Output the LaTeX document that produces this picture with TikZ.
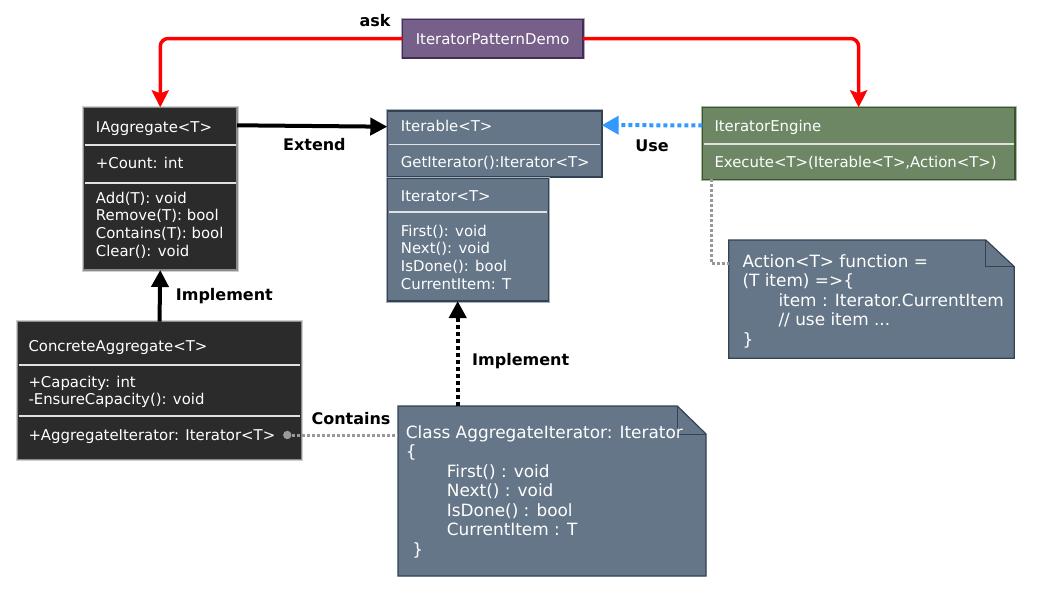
\documentclass[tikz,border=0pt]{standalone}
\usepackage{fontspec}
\setmainfont{DejaVu Sans}
\usetikzlibrary{arrows.meta,calc}
\definecolor{blueFill}{HTML}{647687}
\definecolor{blueStroke}{HTML}{314354}
\definecolor{blueOuter}{HTML}{A9B2BC}
\definecolor{greenFill}{HTML}{6D8764}
\definecolor{greenStroke}{HTML}{3A5431}
\definecolor{greenOuter}{HTML}{AAB9A4}
\definecolor{purpleFill}{HTML}{76608A}
\definecolor{purpleStroke}{HTML}{432D57}
\definecolor{purpleOuter}{HTML}{B3A6BF}
\definecolor{darkFill}{HTML}{2B2B2B}
\definecolor{darkStroke}{HTML}{8C8C8C}
\definecolor{darkOuter}{HTML}{CFCFCF}
\definecolor{divLine}{HTML}{E2E2E2}
\definecolor{askRed}{HTML}{FF0000}
\definecolor{useBlue}{HTML}{3399FF}
\definecolor{connGray}{HTML}{999999}
\newcommand\mylines[1]{\parbox[t]{330pt}{#1}}
\begin{document}
\begin{tikzpicture}[x=1pt,y=-1pt,
  box/.style={shape=rectangle, inner sep=0pt, outer sep=0pt, anchor=north west},
  darkbox/.style={box, fill=darkFill, draw=darkStroke, line width=1.4pt, preaction={draw=darkOuter, line width=3.2pt}},
  bluebox/.style={box, fill=blueFill, draw=blueStroke, line width=1.6pt, preaction={draw=blueOuter, line width=3.4pt}},
  greenbox/.style={box, fill=greenFill, draw=greenStroke, line width=1.6pt, preaction={draw=greenOuter, line width=3.4pt}},
  purplebox/.style={box, fill=purpleFill, draw=purpleStroke, line width=1.6pt, preaction={draw=purpleOuter, line width=3.4pt}},
  notebox/.style={box},
  notepath/.style={fill=blueFill, draw=blueStroke, line width=1.2pt, line join=miter},
  foldline/.style={draw=blueStroke, line width=1pt},
  divider/.style={draw=divLine, line width=1.8pt},
  btxt/.style={text=white, inner sep=0pt, font=\fontsize{14.9}{17.7}\selectfont, anchor=base west},
  ntxt/.style={text=white, inner sep=0pt, font=\fontsize{16.9}{19.5}\selectfont, anchor=base west},
  lbl/.style={text=black, inner sep=0pt, font=\fontsize{16}{19}\selectfont\bfseries, anchor=base},
  redarrow/.style={draw=askRed, line width=3.5pt, rounded corners=8pt, -{Stealth[length=17pt,width=17pt,inset=3pt]}},
  solidarrow/.style={draw=black, line width=4pt, -{Triangle[length=17pt,width=17pt]}},
  dotarrow/.style={draw=black, line width=4pt, dash pattern=on 4pt off 3pt, -{Triangle[length=17pt,width=17pt]}},
  usearrow/.style={draw=useBlue, line width=4pt, dash pattern=on 4pt off 3pt, -{Triangle[length=17pt,width=18pt,fill=useBlue]}},
  grayconn/.style={draw=connGray, line width=3pt, dash pattern=on 3pt off 2pt}
]
\useasboundingbox (0,0) rectangle (1062,589);
\fill[white] (0,0) rectangle (1062,589);

% ---------- boxes ----------
\node[purplebox, minimum width=180.7pt, minimum height=38.4pt] (demo) at (402.3,19.3) {};
\node[text=white, inner sep=0pt, font=\fontsize{14.9}{17.7}\selectfont, anchor=base] (demo-t) at (492.6,44.2) {IteratorPatternDemo};

\node[darkbox, minimum width=153.5pt, minimum height=162.7pt] (iagg) at (83.5,107.3) {};
\draw[divider] ($(iagg.north west)+(1.5,37.7)$) -- ($(iagg.north east)+(-1.5,37.7)$);
\draw[divider] ($(iagg.north west)+(1.5,76)$) -- ($(iagg.north east)+(-1.5,76)$);
\node[btxt] (iagg-t1) at (95.7,132) {IAggregate<T>};
\node[btxt] (iagg-t2) at (95.7,168) {+Count: int};
\node[btxt] (iagg-t3) at (95.7,203) {\mylines{Add(T): void\\Remove(T): bool\\Contains(T): bool\\Clear(): void}};

\node[bluebox, minimum width=214.4pt, minimum height=66pt] (iterable) at (387.3,110.7) {};
\draw[divider] ($(iterable.north west)+(1.5,33.8)$) -- ($(iterable.north east)+(-1.5,33.8)$);
\node[btxt] (iterable-t1) at (400.7,131.2) {Iterable<T>};
\node[btxt] (iterable-t2) at (400.7,167) {GetIterator():Iterator<T>};

\node[bluebox, minimum width=161pt, minimum height=122.7pt] (iterator) at (387.3,178.3) {};
\draw[divider] ($(iterator.north west)+(1.5,33.4)$) -- ($(iterator.north east)+(-1.5,33.4)$);
\node[btxt] (iterator-t1) at (400.7,201.2) {Iterator<T>};
\node[btxt] (iterator-t2) at (400.7,236) {\mylines{First(): void\\Next(): void\\IsDone(): bool\\CurrentItem: T}};

\node[greenbox, minimum width=312.7pt, minimum height=72pt] (engine) at (702.3,107.3) {};
\draw[divider] ($(engine.north west)+(1.5,37)$) -- ($(engine.north east)+(-1.5,37)$);
\node[btxt] (engine-t1) at (714.3,131) {IteratorEngine};
\node[btxt] (engine-t2) at (714.3,167) {Execute<T>(Iterable<T>,Action<T>)};

\node[darkbox, minimum width=284.4pt, minimum height=137.6pt] (concrete) at (17.3,321.7) {};
\draw[divider] ($(concrete.north west)+(1.5,43.6)$) -- ($(concrete.north east)+(-1.5,43.6)$);
\draw[divider] ($(concrete.north west)+(1.5,94.3)$) -- ($(concrete.north east)+(-1.5,94.3)$);
\node[btxt] (concrete-t1) at (28.3,351.2) {ConcreteAggregate<T>};
\node[btxt] (concrete-t2) at (28.3,387.2) {\mylines{+Capacity: int\\-EnsureCapacity(): void}};
\node[btxt] (concrete-t3) at (28.3,440) {+AggregateIterator: Iterator<T>};

% ---------- notes ----------
\node[notebox, minimum width=285.6pt, minimum height=118.3pt] (note1) at (728.7,240) {};
\path[notepath] (note1.north west) -- ($(note1.north east)+(-28.5,0)$) -- ($(note1.north east)+(0,26.7)$) -- (note1.south east) -- (note1.south west) -- cycle;
\draw[foldline] ($(note1.north east)+(-28.5,0)$) -- ($(note1.north east)+(-28.5,26.7)$) -- ($(note1.north east)+(0,26.7)$);
\node[ntxt] (note1-t) at (742.3,267) {\mylines{Action<T> function =\\(T item) =>\{\\\hspace*{36pt}item : Iterator.CurrentItem\\\hspace*{36pt}// use item ...\\\}}};

\node[notebox, minimum width=308pt, minimum height=170pt] (note2) at (398,406) {};
\path[notepath] (note2.north west) -- ($(note2.north east)+(-28.7,0)$) -- ($(note2.north east)+(0,28)$) -- (note2.south east) -- (note2.south west) -- cycle;
\draw[foldline] ($(note2.north east)+(-28.7,0)$) -- ($(note2.north east)+(-28.7,28)$) -- ($(note2.north east)+(0,28)$);
\node[ntxt] (note2-t) at (405.7,438) {\mylines{Class AggregateIterator: Iterator\\\{\\\hspace*{41pt}First() : void\\\hspace*{41pt}Next() : void\\\hspace*{41pt}IsDone() : bool\\\hspace*{41pt}CurrentItem : T\\\hspace*{6.5pt}\}}};

% ---------- connector end points ----------
\coordinate (iaggR) at ($(iagg.north east)+(0,18)$);
\coordinate (iterableL) at ($(iterable.north west)+(0,16)$);
\coordinate (engineL) at ($(engine.north west)+(0,18)$);
\coordinate (iterableR) at ($(iterable.north east)+(0,14.5)$);
\coordinate (note2top) at ($(note2.north west)+(59.7,0)$);
\coordinate (aggdot) at ($(concrete.south east)+(-14.4,-24.3)$);
\coordinate (note2L) at ($(note2.north west)+(0,29)$);
\coordinate (engineB) at ($(engine.south west)+(8.7,0)$);
\coordinate (note1L) at ($(note1.north west)+(0,23.7)$);

% ---------- connectors ----------
\draw[redarrow] (demo.west) -| (iagg.north);
\draw[redarrow] (demo.east) -| (engine.north);
\draw[solidarrow] (iaggR) -- (iterableL);
\draw[usearrow] (engineL) -- (iterableR);
\draw[solidarrow] (concrete.north) -- (iagg.south);
\draw[dotarrow] (note2top) -- (note2top |- iterator.south);
\draw[grayconn] (aggdot) -- (note2L);
\fill[connGray] (aggdot) circle (4.2pt);
\draw[grayconn] (engineB) |- (note1L);

% ---------- labels ----------
\node[lbl] (ask) at (375,26.7) {ask};
\node[lbl] (extend) at (314.4,150.7) {Extend};
\node[lbl] (use) at (652,151) {Use};
\node[lbl, anchor=base west] (impl1) at (175.7,300.7) {Implement};
\node[lbl, anchor=base west] (impl2) at (472,365) {Implement};
\node[lbl] (contains) at (351,424) {Contains};
\end{tikzpicture}
\end{document}
